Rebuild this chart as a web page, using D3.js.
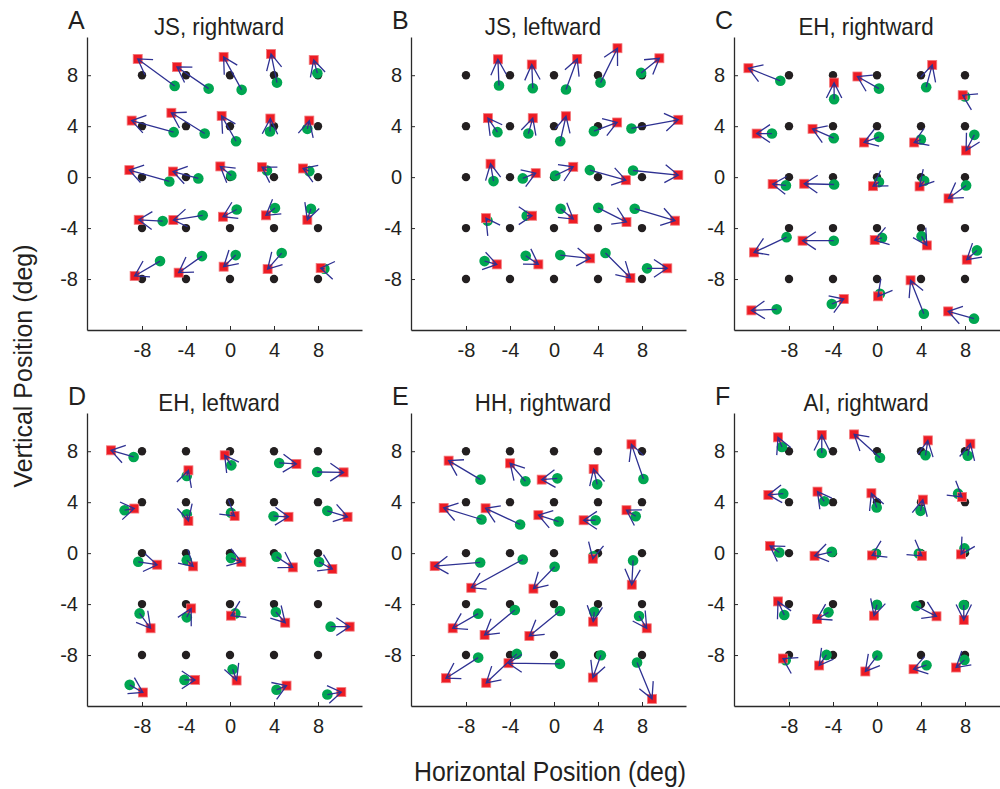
<!DOCTYPE html>
<html><head><meta charset="utf-8">
<script src="https://cdn.jsdelivr.net/npm/d3@7"></script>
<style>body{margin:0;background:#fff}</style>
</head><body>
<svg id="c" width="1000" height="789" xmlns="http://www.w3.org/2000/svg"></svg>
<script>
// ---- data ----
const tickValues = [-8, -4, 0, 4, 8];
const targetX = [-8, -4, 0, 4, 8];
const targetY = [8, 4, 0, -4, -8];
const panelLetters = ["A", "B", "C", "D", "E", "F"];
const panelTitles = ["JS, rightward", "JS, leftward", "EH, rightward", "EH, leftward", "HH, rightward", "AI, rightward"];
const xAxisTitle = "Horizontal Position (deg)";
const yAxisTitle = "Vertical Position (deg)";

// order: rows y = 8,4,0,-4,-8 ; columns x = -8,-4,0,4,8
const A_green = [[-5.03,7.16],[-1.94,6.95],[1.06,6.85],[4.27,7.42],[7.94,8.16],
  [-5.12,3.53],[-2.30,3.42],[0.55,2.82],[3.64,3.58],[7.03,3.79],
  [-5.52,-0.34],[-2.88,-0.10],[0.12,0.13],[3.36,0.52],[7.21,0.47],
  [-6.12,-3.45],[-2.48,-3.00],[0.61,-2.54],[4.09,-2.43],[7.36,-2.48],
  [-6.36,-6.59],[-2.55,-6.20],[0.52,-6.12],[4.70,-5.96],[8.58,-7.19]];
const A_red = [[-8.39,9.28],[-4.82,8.65],[-0.58,9.44],[3.73,9.67],[7.61,9.20],
  [-8.94,4.44],[-5.33,5.05],[-0.76,4.81],[3.67,4.60],[7.21,4.44],
  [-9.15,0.55],[-5.18,0.44],[-0.88,0.84],[2.91,0.78],[6.64,0.68],
  [-8.30,-3.35],[-5.15,-3.37],[-0.64,-3.11],[3.27,-3.00],[7.03,-3.35],
  [-8.67,-7.76],[-4.67,-7.50],[-0.58,-7.03],[3.42,-7.22],[8.24,-7.14]];

const B_green = [[-5.00,7.19],[-1.93,6.98],[1.09,6.88],[4.23,7.42],[7.92,8.18],
  [-5.14,3.53],[-2.33,3.42],[0.57,2.82],[3.63,3.61],[7.04,3.82],
  [-5.50,-0.31],[-2.84,-0.10],[0.12,0.13],[3.26,0.55],[7.19,0.52],
  [-6.04,-3.42],[-2.48,-3.03],[0.60,-2.48],[4.02,-2.41],[7.34,-2.48],
  [-6.31,-6.59],[-2.57,-6.17],[0.57,-6.12],[4.68,-5.96],[8.46,-7.16]];
const B_red = [[-5.10,9.25],[-2.02,8.84],[2.11,9.28],[5.77,10.12],[9.58,9.33],
  [-6.01,4.63],[-1.93,4.63],[1.09,4.78],[5.74,4.29],[11.30,4.50],
  [-5.77,1.05],[-1.66,0.31],[1.75,0.81],[6.53,-0.24],[11.30,0.16],
  [-6.19,-3.22],[-1.99,-3.03],[1.75,-3.29],[6.59,-3.53],[11.00,-3.42],
  [-5.20,-6.85],[-1.42,-6.85],[3.29,-6.38],[6.95,-7.92],[10.30,-7.16]];

const C_green = [[-8.79,7.56],[-3.90,6.12],[0.18,6.95],[4.47,7.06],[8.00,6.33],
  [-9.55,3.42],[-3.93,3.06],[0.18,3.16],[3.99,2.95],[8.85,3.32],
  [-8.28,-0.65],[-3.90,-0.58],[0.18,-0.39],[4.29,-0.29],[8.10,-0.65],
  [-8.22,-4.71],[-3.93,-4.99],[0.45,-4.76],[4.05,-4.65],[9.09,-5.75],
  [-9.12,-10.38],[-4.11,-9.96],[0.27,-9.15],[4.26,-10.72],[8.82,-11.11]];
const C_red = [[-11.69,8.55],[-3.90,7.42],[-1.78,7.90],[5.02,8.81],[7.79,6.43],
  [-10.94,3.42],[-5.86,3.79],[-1.18,2.72],[3.38,2.72],[8.10,2.09],
  [-9.49,-0.55],[-6.62,-0.52],[-0.36,-0.71],[3.87,-0.73],[6.50,-1.67],
  [-11.18,-5.91],[-6.77,-4.99],[-0.21,-4.94],[4.53,-5.36],[8.16,-6.48],
  [-11.42,-10.46],[-3.02,-9.57],[0.09,-9.36],[3.05,-8.10],[6.47,-10.54]];

const D_green = [[-8.76,7.55],[-3.93,6.06],[0.12,6.89],[4.47,7.08],[7.92,6.37],
  [-9.58,3.37],[-3.93,3.05],[0.09,3.16],[3.96,2.90],[8.85,3.32],
  [-8.34,-0.68],[-3.93,-0.55],[0.09,-0.39],[4.23,-0.29],[8.10,-0.70],
  [-8.22,-4.73],[-3.93,-5.04],[0.48,-4.73],[4.17,-4.62],[9.15,-5.77],
  [-9.12,-10.34],[-4.14,-9.95],[0.24,-9.12],[4.23,-10.73],[8.85,-11.10]];
const D_red = [[-10.82,8.07],[-3.78,6.50],[-0.48,7.68],[6.04,7.00],[10.33,6.34],
  [-8.70,3.50],[-3.78,2.53],[0.42,2.92],[5.32,2.85],[10.69,2.85],
  [-6.62,-0.91],[-3.35,-1.04],[1.03,-0.68],[5.71,-1.12],[9.31,-1.25],
  [-7.22,-5.90],[-3.53,-4.34],[0.09,-4.91],[5.02,-5.46],[10.88,-5.77],
  [-7.92,-10.94],[-3.17,-9.95],[0.60,-10.00],[5.14,-10.40],[10.12,-10.91]];

const E_green = [[-6.68,5.77],[-2.60,5.64],[0.30,5.87],[3.93,5.40],[8.13,5.82],
  [-6.59,2.64],[-3.08,2.25],[0.42,2.48],[3.78,2.58],[7.43,2.90],
  [-6.71,-0.73],[-2.84,-0.50],[0.06,-1.07],[3.58,-0.24],[7.19,-0.57],
  [-6.89,-4.75],[-3.56,-4.46],[0.54,-4.54],[3.66,-4.60],[7.73,-4.93],
  [-6.89,-8.20],[-3.38,-7.91],[0.54,-8.69],[4.26,-8.02],[7.55,-8.59]];
const E_red = [[-9.58,7.26],[-3.99,7.05],[-1.12,5.77],[3.60,6.61],[7.04,8.54],
  [-10.03,3.55],[-6.22,3.52],[-1.42,2.98],[2.69,2.58],[6.59,3.37],
  [-10.85,-1.02],[-7.52,-2.72],[-1.87,-2.79],[3.53,-0.44],[7.07,-2.48],
  [-9.21,-5.90],[-6.31,-6.42],[-2.24,-6.50],[3.56,-5.38],[8.43,-5.90],
  [-9.82,-9.82],[-6.16,-10.18],[-4.14,-8.64],[3.53,-9.77],[8.91,-11.44]];

const F_green = [[-8.64,8.33],[-5.02,7.86],[0.27,7.49],[4.41,7.68],[8.25,7.65],
  [-8.52,4.67],[-4.80,4.07],[-0.03,3.58],[3.96,3.32],[7.37,4.67],
  [-8.88,0.05],[-4.11,0.10],[-0.12,-0.03],[3.81,-0.03],[7.95,0.37],
  [-8.43,-4.86],[-4.41,-4.65],[0.00,-4.05],[3.56,-4.15],[7.89,-4.07],
  [-8.30,-8.40],[-4.59,-7.99],[0.03,-8.04],[4.50,-8.80],[7.95,-8.38]];
const F_red = [[-9.00,9.09],[-5.02,9.27],[-2.08,9.32],[4.62,8.85],[8.49,8.59],
  [-9.88,4.57],[-5.41,4.83],[-0.51,4.70],[4.17,4.20],[7.73,4.41],
  [-9.73,0.57],[-5.68,-0.21],[-0.45,-0.18],[4.08,-0.21],[7.64,-0.10],
  [-9.00,-3.79],[-5.44,-5.17],[-0.27,-4.91],[5.41,-4.96],[7.89,-5.25],
  [-8.55,-8.27],[-5.26,-8.82],[-1.06,-9.29],[3.32,-9.11],[7.19,-8.98]];

// ---- drawing ----
const greens = [A_green, B_green, C_green, D_green, E_green, F_green];
const reds = [A_red, B_red, C_red, D_red, E_red, F_red];
const FONT = "'Liberation Sans', Arial, Helvetica, sans-serif";
const TXT = "#231f20";
const svg = d3.select("#c");
svg.append("rect").attr("width", 1000).attr("height", 789).attr("fill", "#fff");

const lefts = [87, 411, 734];
const tops = [37, 413];
const W = 275, H = 293;

const targets = [];
targetY.forEach(ty => targetX.forEach(tx => targets.push([tx, ty])));

panelLetters.forEach((letter, p) => {
  const left = lefts[p % 3], top = tops[Math.floor(p / 3)];
  const x = d3.scaleLinear().domain([-13, 12]).range([left, left + W]);
  const y = d3.scaleLinear().domain([-12, 11]).range([top + H, top]);
  const g = svg.append("g");

  // axes
  const ax = g.append("g").attr("transform", `translate(0,${y(-12)})`)
    .call(d3.axisBottom(x).tickValues(tickValues).tickFormat(d => String(d))
      .tickSize(-4).tickSizeOuter(0).tickPadding(13));
  const ay = g.append("g").attr("transform", `translate(${x(-13)},0)`)
    .call(d3.axisLeft(y).tickValues(tickValues).tickFormat(d => String(d))
      .tickSize(-4).tickSizeOuter(0).tickPadding(9));
  [ax, ay].forEach(a => {
    a.attr("font-family", FONT).attr("font-size", 20).attr("color", "#2a2a2a");
    a.select(".domain").attr("stroke-width", 1.3);
    a.selectAll("text").attr("fill", TXT);
  });

  // target dots
  g.append("g").selectAll("circle").data(targets).join("circle")
    .attr("cx", d => x(d[0])).attr("cy", d => y(d[1])).attr("r", 4.2).attr("fill", "#231f20");
  // green
  g.append("g").selectAll("circle").data(greens[p]).join("circle")
    .attr("cx", d => x(d[0])).attr("cy", d => y(d[1])).attr("r", 5.3).attr("fill", "#00a651");
  // red squares
  const s = 9;
  g.append("g").selectAll("rect").data(reds[p]).join("rect")
    .attr("x", d => x(d[0]) - s / 2).attr("y", d => y(d[1]) - s / 2)
    .attr("width", s).attr("height", s).attr("fill", "#ed1c24")
    .attr("stroke", "#f3777b").attr("stroke-width", 0.8);

  // arrows green -> red, open arrowhead at red
  const L = 1.4, half = 30 * Math.PI / 180;
  const arrows = greens[p].map((gp, i) => [gp, reds[p][i]]);
  g.append("g").selectAll("path").data(arrows).join("path")
    .attr("d", ([gp, rp]) => {
      const ang = Math.atan2(gp[1] - rp[1], gp[0] - rp[0]);
      const b1 = [rp[0] + L * Math.cos(ang + half), rp[1] + L * Math.sin(ang + half)];
      const b2 = [rp[0] + L * Math.cos(ang - half), rp[1] + L * Math.sin(ang - half)];
      return `M${x(gp[0])},${y(gp[1])}L${x(rp[0])},${y(rp[1])}` +
        `M${x(b1[0])},${y(b1[1])}L${x(rp[0])},${y(rp[1])}L${x(b2[0])},${y(b2[1])}`;
    })
    .attr("fill", "none").attr("stroke", "#2e3192").attr("stroke-width", 1.3)
    .attr("stroke-linejoin", "miter");

  // letter and title
  svg.append("text").attr("x", left - 19).attr("y", top - 8)
    .attr("font-family", FONT).attr("font-size", 25).attr("fill", TXT).text(letter);
  svg.append("text").attr("transform", `translate(${x(-1)},${top - 2}) scale(0.93,1)`)
    .attr("text-anchor", "middle").attr("font-family", FONT).attr("font-size", 24)
    .attr("fill", TXT).text(panelTitles[p]);
});

svg.append("text").attr("transform", "translate(550,781) scale(0.92,1)")
  .attr("text-anchor", "middle").attr("font-family", FONT).attr("font-size", 27)
  .attr("fill", TXT).text(xAxisTitle);
svg.append("text").attr("transform", "translate(32,366) rotate(-90)")
  .attr("text-anchor", "middle").attr("font-family", FONT).attr("font-size", 25)
  .attr("fill", TXT).text(yAxisTitle);
</script>
</body></html>
